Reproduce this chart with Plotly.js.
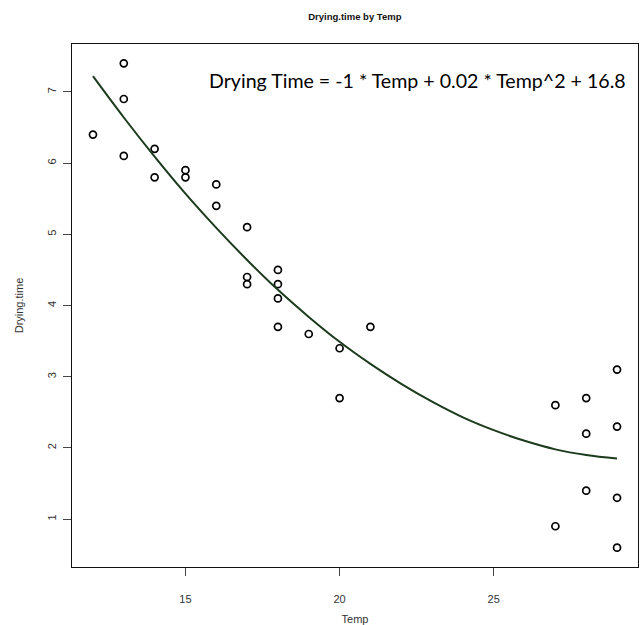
<!DOCTYPE html>
<html>
<head>
<meta charset="utf-8">
<script src="https://cdn.plot.ly/plotly-3.0.1.min.js"></script>
<style>html,body{margin:0;padding:0;background:#fff;}#chart{width:644px;height:625px;}</style>
</head>
<body>
<div id="chart"></div>
<script>
// Observed data
const temp = [12, 13, 13, 13, 14, 14, 15, 15, 16, 16, 17, 17, 17, 18, 18, 18, 18, 19, 20, 20, 21, 27, 27, 28, 28, 28, 29, 29, 29, 29];
const dryingTime = [6.4, 7.4, 6.9, 6.1, 6.2, 5.8, 5.9, 5.8, 5.7, 5.4, 5.1, 4.4, 4.3, 4.5, 4.3, 4.1, 3.7, 3.6, 3.4, 2.7, 3.7, 2.6, 0.9, 2.7, 2.2, 1.4, 3.1, 2.3, 1.3, 0.6];
// Fitted curve
const curveTemp = [12, 13, 14, 15, 16, 17, 18, 19, 20, 21, 22, 23, 24, 25, 26, 27, 28, 29];
const curveValue = [7.22, 6.64, 6.09, 5.57, 5.09, 4.64, 4.22, 3.84, 3.49, 3.18, 2.90, 2.65, 2.43, 2.25, 2.10, 1.98, 1.90, 1.85];
const xTicks = [15, 20, 25];
const yTicks = [1, 2, 3, 4, 5, 6, 7];
const titleText = "Drying.time by Temp";
const equationText = "Drying Time = -1 * Temp + 0.02 * Temp^2 + 16.8";

const traces = [
  {
    x: temp, y: dryingTime, type: 'scatter', mode: 'markers',
    marker: {symbol: 'circle-open', size: 7, color: '#000', line: {width: 1.7, color: '#000'}},
    hoverinfo: 'x+y'
  },
  {
    x: curveTemp, y: curveValue, type: 'scatter', mode: 'lines',
    line: {color: '#1c3b1c', width: 2, shape: 'spline', smoothing: 1},
    hoverinfo: 'skip'
  }
];

const axisFont = {family: 'Liberation Sans, Arial, sans-serif', size: 11, color: '#333'};
const layout = {
  width: 644, height: 625,
  margin: {l: 72, r: 6, t: 44, b: 58},
  paper_bgcolor: '#fff', plot_bgcolor: '#fff',
  showlegend: false,
  title: {text: '<b>' + titleText + '</b>', x: 0.551, xanchor: 'center', y: 0.973, yanchor: 'middle',
          font: {family: 'Liberation Sans, Arial, sans-serif', size: 9.5, color: '#111'}},
  xaxis: {
    range: [11.32, 29.68], tickvals: xTicks, ticktext: xTicks.map(String),
    showgrid: false, zeroline: false,
    showline: true, mirror: true, linecolor: '#111', linewidth: 1.2,
    ticks: 'outside', ticklen: 8, tickcolor: '#444', tickwidth: 1,
    ticklabelstandoff: 14,
    tickfont: axisFont,
    title: {text: 'Temp', font: axisFont, standoff: 12}
  },
  yaxis: {
    range: [0.328, 7.672], tickvals: yTicks, ticktext: yTicks.map(String),
    showgrid: false, zeroline: false,
    showline: true, mirror: true, linecolor: '#111', linewidth: 1.2,
    ticks: 'outside', ticklen: 8, tickcolor: '#444', tickwidth: 1,
    tickangle: -90, tickfont: axisFont, ticklabelstandoff: 2,
    title: {text: 'Drying.time', font: axisFont, standoff: 20}
  },
  annotations: [{
    text: equationText, xref: 'paper', yref: 'paper', x: 0.982, y: 0.93,
    xanchor: 'right', yanchor: 'middle', showarrow: false,
    font: {family: 'Lato, Noto Sans, sans-serif', size: 19.6, color: '#000'}
  }]
};

Plotly.newPlot('chart', traces, layout, {displayModeBar: false, staticPlot: true});
</script>
</body>
</html>
